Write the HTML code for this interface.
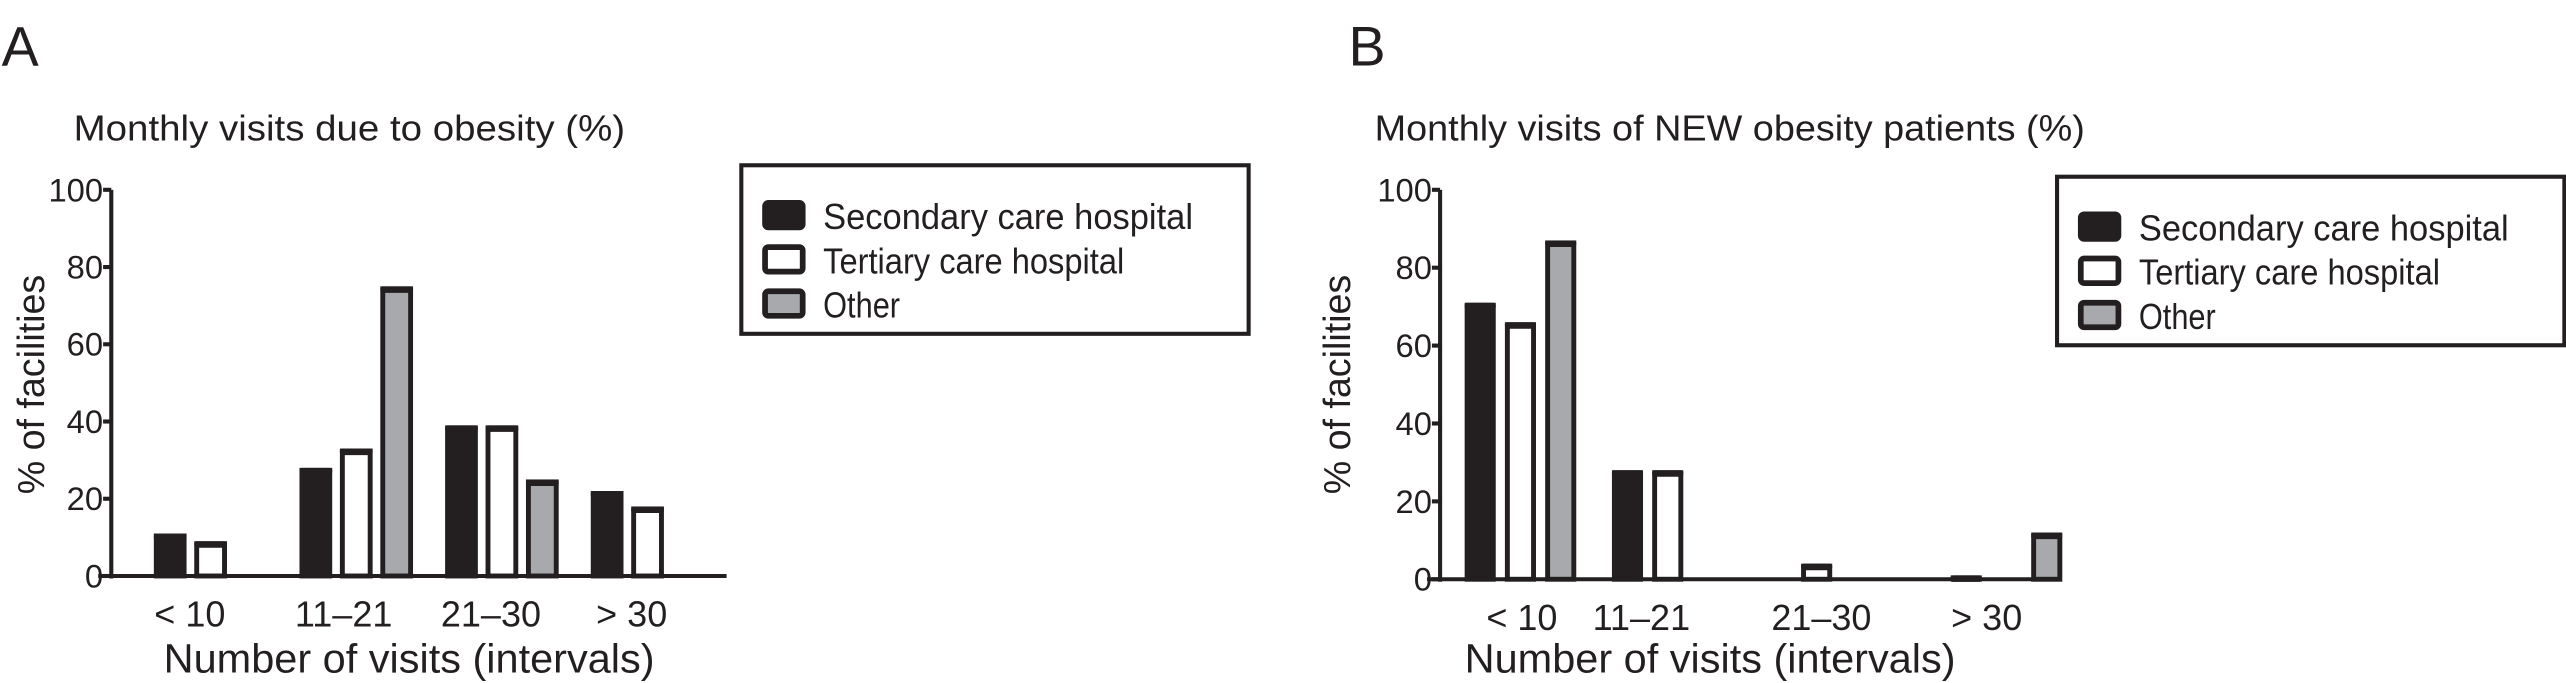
<!DOCTYPE html>
<html><head><meta charset="utf-8"><style>
html,body{margin:0;padding:0;background:#fff;}
svg{display:block;}
text{font-family:"Liberation Sans Narrow","Liberation Sans",sans-serif;fill:#231f20;}
</style></head><body>
<svg id="fig" width="2566" height="683" viewBox="0 0 1568 417.4" preserveAspectRatio="none"></svg>
<script>
const categories = ["< 10", "11–21", "21–30", "> 30"];
const seriesNames = ["Secondary care hospital", "Tertiary care hospital", "Other"];
const yTicks = [0, 20, 40, 60, 80, 100];
const aSecondary = [11, 28, 39, 22];
const aTertiary = [9, 33, 39, 18];
const aOther = [null, 75, 25, null];
const bSecondary = [71, 28, null, 1];
const bTertiary = [66, 28, 4, null];
const bOther = [87, null, null, 12];

const NS = "http://www.w3.org/2000/svg";
const svg = document.getElementById("fig");
function mk(tag, attrs, parent){const e=document.createElementNS(NS,tag);for(const k in attrs)e.setAttribute(k,attrs[k]);(parent||svg).appendChild(e);return e;}
const fills=["#231f20","#ffffff","#a7a9ac"];
const legendW=[226,184,47];

function panel(cfg){
  const g=mk("g",{});
  
  
  const y=v=>cfg.y0-(v/100)*(cfg.y0-cfg.y100);
  const t=mk("text",{x:cfg.letterX,y:40,"font-size":34},g);t.textContent=cfg.letter;
  
  
  const ti=mk("text",{x:cfg.titleX,y:86,"font-size":22,textLength:cfg.titleW,lengthAdjust:"spacingAndGlyphs"},g);ti.textContent=cfg.title;
  
  
  const ya=mk("line",{x1:cfg.ax,y1:cfg.y100,x2:cfg.ax,y2:cfg.y0+1.5,stroke:"#231f20","stroke-width":2.5},g);
  
  
  const xa=mk("line",{x1:cfg.ax-8,y1:cfg.y0,x2:cfg.axEnd,y2:cfg.y0,stroke:"#231f20","stroke-width":2.5},g);
  
  
  yTicks.forEach(v=>{
    const tk=mk("line",{x1:cfg.ax-5,y1:y(v),x2:cfg.ax,y2:y(v),stroke:"#231f20","stroke-width":2.5},g);
    
    
    const tl=mk("text",{x:cfg.ax-5,y:y(v)+7,"font-size":20,"text-anchor":"end"},g);tl.textContent=v;
    
    
  });
  const yt=mk("text",{x:0,y:0,"font-size":23,"text-anchor":"middle",transform:`translate(${cfg.ytX},235) rotate(-90)`,style:'font-family:"Liberation Sans",sans-serif'},g);yt.textContent="% of facilities";
  
  
  const series=[cfg.s0,cfg.s1,cfg.s2];
  categories.forEach((c,i)=>{
    series.forEach((arr,j)=>{
      const v=arr[i]; if(v==null) return;
      const x=cfg.gx[i]+j*cfg.step;
      const r=mk("rect",{x:x+1.5,y:y(v)+1.5,width:cfg.bw-3,height:Math.max(0,cfg.y0-y(v)-1.5),fill:fills[j],stroke:"#231f20","stroke-width":3},g);
      
      
      const top=mk("rect",{x:x,y:y(v),width:cfg.bw,height:4,fill:"#231f20",rx:1.5},g);
      
      
    });
    const cl=mk("text",{x:cfg.lx[i],y:cfg.y0+31,"font-size":22,"text-anchor":"middle"},g);cl.textContent=c;
    
    
  });
  const xt=mk("text",{x:cfg.xtX,y:411,"font-size":25,"text-anchor":"middle",textLength:300,lengthAdjust:"spacingAndGlyphs"},g);xt.textContent="Number of visits (intervals)";
  
  
  const lg=mk("g",{},g);
  
  
  mk("rect",{x:cfg.lgX,y:cfg.lgY,width:310,height:cfg.lgH,fill:"#fff",stroke:"#231f20","stroke-width":2.5},lg);
  seriesNames.forEach((n,j)=>{
    const cy=cfg.lgY+31+j*27;
    const sw=mk("rect",{x:cfg.lgX+14.5,y:cy-8,width:23,height:15,fill:fills[j],stroke:"#231f20","stroke-width":3.5,rx:2},lg);
    
    
    const lt=mk("text",{x:cfg.lgX+50,y:cy+8,"font-size":22,textLength:legendW[j],lengthAdjust:"spacingAndGlyphs"},lg);lt.textContent=n;
    
    
  });
}
panel({id:"a",letter:"A",letterX:1,title:"Monthly visits due to obesity (%)",titleX:45,titleW:337,ax:68,axEnd:444,y0:352,y100:116,ytX:27,
  s0:aSecondary,s1:aTertiary,s2:aOther,gx:[94,183,272,361],step:24.7,bw:20,lx:[116,210,300,386],xtX:250,lgX:453,lgY:101,lgH:103});
panel({id:"b",letter:"B",letterX:824,title:"Monthly visits of NEW obesity patients (%)",titleX:840,titleW:434,ax:880,axEnd:1244,y0:354,y100:116,ytX:825,
  s0:bSecondary,s1:bTertiary,s2:bOther,gx:[895,985,1076,1192],step:24.6,bw:19,lx:[930,1003,1113,1214],xtX:1045,lgX:1257,lgY:108,lgH:103});
</script>
</body></html>
